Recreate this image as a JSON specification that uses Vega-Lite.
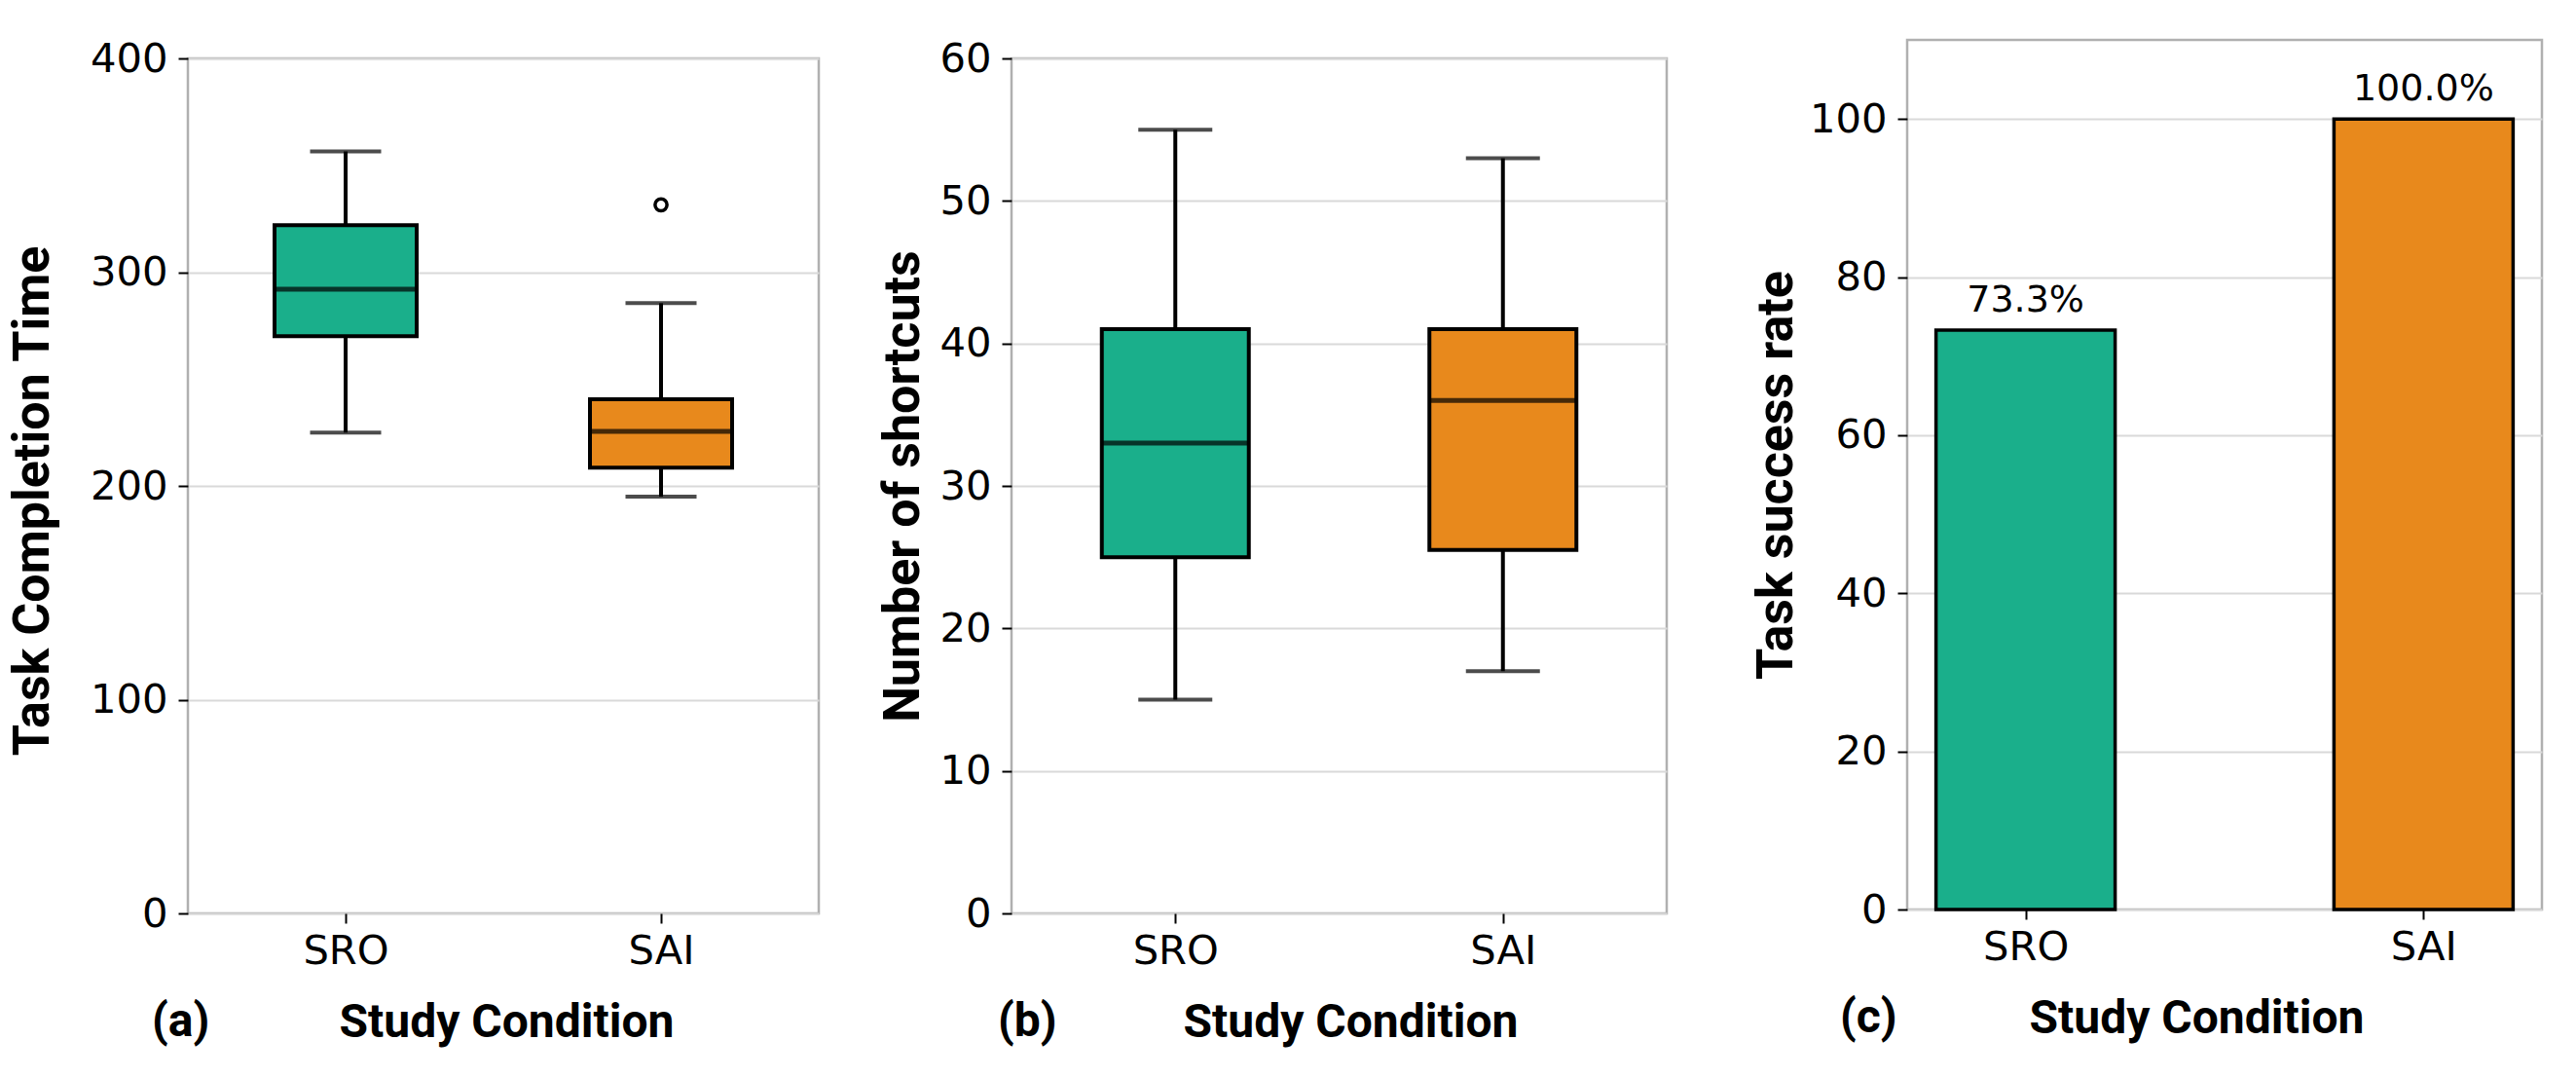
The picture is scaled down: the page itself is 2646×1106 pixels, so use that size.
{
  "$schema": "https://vega.github.io/schema/vega-lite/v6.json",
  "background": "white",
  "autosize": {"type": "pad"},
  "padding": {"left": 6, "top": 38, "right": 0, "bottom": 0},
  "datasets": {
    "time": [
      {"cond": "SRO", "lower": 225, "q1": 270, "median": 292, "q3": 322, "upper": 356.5},
      {"cond": "SAI", "lower": 195, "q1": 208.5, "median": 225.5, "q3": 240.5, "upper": 285.5}
    ],
    "time_out": [
      {"cond": "SAI", "value": 331.5}
    ],
    "shortcuts": [
      {"cond": "SRO", "lower": 15, "q1": 25, "median": 33, "q3": 41, "upper": 55},
      {"cond": "SAI", "lower": 17, "q1": 25.5, "median": 36, "q3": 41, "upper": 53}
    ],
    "success": [
      {"cond": "SRO", "rate": 73.3, "label": "73.3%"},
      {"cond": "SAI", "rate": 100, "label": "100.0%"}
    ],
    "blank": [
      {"v": 0}
    ]
  },
  "spacing": 83,
  "hconcat": [
    {
      "spacing": -7,
      "vconcat": [
        {
          "width": 1,
          "height": 1,
          "data": {"name": "blank"},
          "view": {"stroke": null},
          "mark": {"type": "point", "opacity": 0}
        },
        {
          "spacing": 57,
          "hconcat": [
            {
              "width": 648,
              "height": 878,
              "data": {"name": "time"},
              "title": {"text": "(a)", "dx": -37},
              "encoding": {
                "x": {
                  "field": "cond", "type": "nominal",
                  "scale": {"type": "point", "padding": 0.5, "domain": ["SRO", "SAI"]},
                  "axis": {"title": "Study Condition", "titleX": 327}
                }
              },
              "layer": [
                {
                  "mark": {"type": "rule", "strokeWidth": 4, "color": "black"},
                  "encoding": {
                    "y": {
                      "field": "lower", "type": "quantitative", "title": "Task Completion Time",
                      "scale": {"domain": [0, 400]},
                      "axis": {"values": [0, 100, 200, 300, 400], "titlePadding": 32, "titleY": 454}
                    },
                    "y2": {"field": "upper"}
                  }
                },
                {
                  "mark": {"type": "tick", "size": 73, "thickness": 4, "color": "black"},
                  "encoding": {"y": {"field": "lower", "type": "quantitative", "title": "Task Completion Time"}}
                },
                {
                  "mark": {"type": "tick", "size": 73, "thickness": 4, "color": "black"},
                  "encoding": {"y": {"field": "upper", "type": "quantitative", "title": "Task Completion Time"}}
                },
                {
                  "mark": {"type": "bar", "width": 146, "stroke": "black", "strokeWidth": 4, "opacity": 1},
                  "encoding": {
                    "y": {"field": "q1", "type": "quantitative", "title": "Task Completion Time"},
                    "y2": {"field": "q3"},
                    "color": {"field": "cond", "type": "nominal", "scale": {"domain": ["SRO", "SAI"], "range": ["#1aaf8b", "#e8891c"]}, "legend": null}
                  }
                },
                {
                  "mark": {"type": "tick", "size": 146, "thickness": 5, "color": "black"},
                  "encoding": {"y": {"field": "median", "type": "quantitative", "title": "Task Completion Time"}}
                },
                {
                  "data": {"name": "time_out"},
                  "mark": {"type": "point", "shape": "circle", "filled": false, "size": 150, "strokeWidth": 3.5, "color": "black", "opacity": 1},
                  "encoding": {"y": {"field": "value", "type": "quantitative", "title": "Task Completion Time"}}
                }
              ]
            },
            {
              "width": 673,
              "height": 878,
              "data": {"name": "shortcuts"},
              "title": {"text": "(b)", "dx": -14},
              "encoding": {
                "x": {
                  "field": "cond", "type": "nominal",
                  "scale": {"type": "point", "padding": 0.5, "domain": ["SRO", "SAI"]},
                  "axis": {"title": "Study Condition", "titleX": 348}
                }
              },
              "layer": [
                {
                  "mark": {"type": "rule", "strokeWidth": 4, "color": "black"},
                  "encoding": {
                    "y": {
                      "field": "lower", "type": "quantitative", "title": "Number of shortcuts",
                      "scale": {"domain": [0, 60]},
                      "axis": {"values": [0, 10, 20, 30, 40, 50, 60], "titlePadding": 10}
                    },
                    "y2": {"field": "upper"}
                  }
                },
                {
                  "mark": {"type": "tick", "size": 76, "thickness": 4, "color": "black"},
                  "encoding": {"y": {"field": "lower", "type": "quantitative", "title": "Number of shortcuts"}}
                },
                {
                  "mark": {"type": "tick", "size": 76, "thickness": 4, "color": "black"},
                  "encoding": {"y": {"field": "upper", "type": "quantitative", "title": "Number of shortcuts"}}
                },
                {
                  "mark": {"type": "bar", "width": 151, "stroke": "black", "strokeWidth": 4, "opacity": 1},
                  "encoding": {
                    "y": {"field": "q1", "type": "quantitative", "title": "Number of shortcuts"},
                    "y2": {"field": "q3"},
                    "color": {"field": "cond", "type": "nominal", "scale": {"domain": ["SRO", "SAI"], "range": ["#1aaf8b", "#e8891c"]}, "legend": null}
                  }
                },
                {
                  "mark": {"type": "tick", "size": 151, "thickness": 5, "color": "black"},
                  "encoding": {"y": {"field": "median", "type": "quantitative", "title": "Number of shortcuts"}}
                }
              ]
            }
          ]
        }
      ]
    },
    {
      "width": 652,
      "height": 893,
      "data": {"name": "success"},
      "title": {"text": "(c)", "dx": -69},
      "encoding": {
        "x": {
          "field": "cond", "type": "nominal",
          "scale": {"type": "point", "padding": 0.2975, "domain": ["SRO", "SAI"]},
          "axis": {"title": "Study Condition", "titleX": 297}
        },
        "y": {
          "field": "rate", "type": "quantitative", "title": "Task success rate",
          "scale": {"domain": [0, 110]},
          "axis": {"values": [0, 20, 40, 60, 80, 100], "titlePadding": 7}
        }
      },
      "layer": [
        {
          "mark": {"type": "bar", "width": 184, "stroke": "black", "strokeWidth": 3.5},
          "encoding": {
            "color": {"field": "cond", "type": "nominal", "scale": {"domain": ["SRO", "SAI"], "range": ["#1aaf8b", "#e8891c"]}, "legend": null}
          }
        },
        {
          "mark": {"type": "text", "baseline": "alphabetic", "align": "center", "dy": -19, "font": "DejaVu Sans", "fontSize": 38, "color": "black"},
          "encoding": {"text": {"field": "label"}}
        }
      ]
    }
  ],
  "config": {
    "view": {"stroke": "#b0b0b0", "strokeWidth": 2.5},
    "axis": {
      "domain": false,
      "tickColor": "black",
      "tickSize": 10,
      "tickWidth": 2,
      "labelFont": "DejaVu Sans",
      "labelFontSize": 41.7,
      "labelColor": "black",
      "titleFont": "Roboto",
      "titleFontSize": 52,
      "titleFontWeight": "bold",
      "titleColor": "black",
      "gridColor": "#d9d9d9",
      "gridWidth": 2
    },
    "axisX": {"grid": false, "labelAngle": 0, "labelPadding": 8, "titlePadding": 28.5, "titleFontSize": 48},
    "axisY": {"labelPadding": 11},
    "title": {
      "font": "Roboto",
      "fontSize": 48,
      "fontWeight": "bold",
      "color": "black",
      "orient": "bottom",
      "anchor": "start",
      "frame": "group",
      "offset": -48
    }
  }
}
